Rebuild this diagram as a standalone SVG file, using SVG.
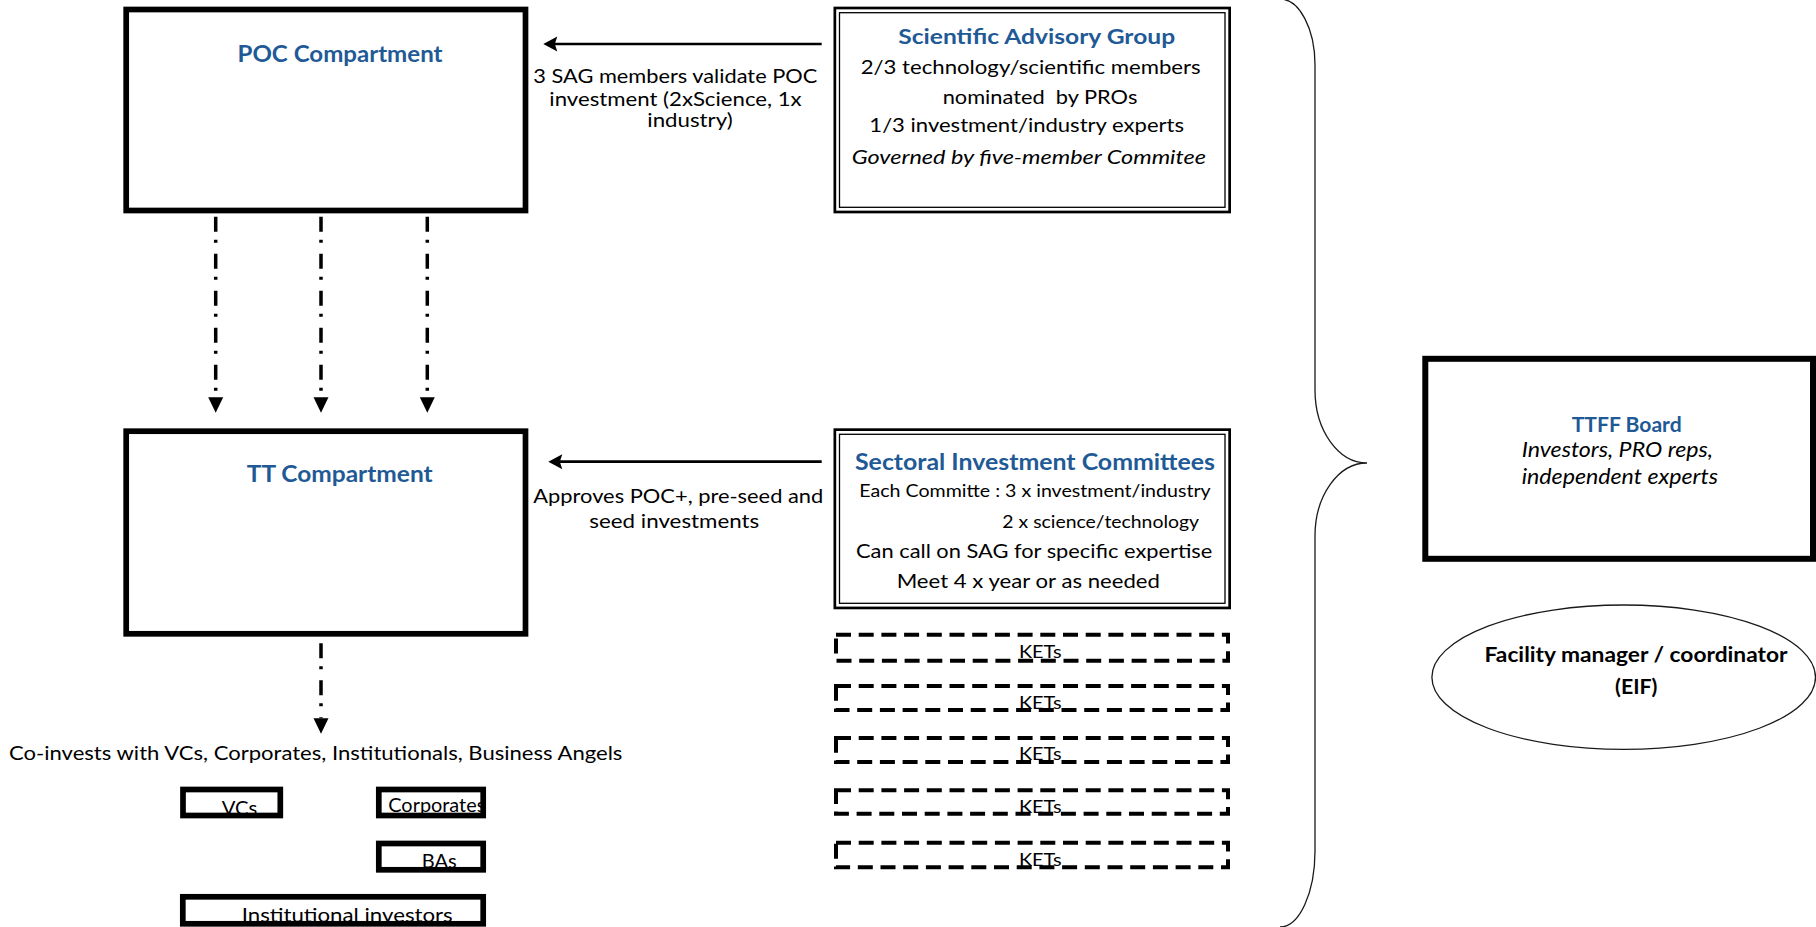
<svg xmlns="http://www.w3.org/2000/svg" width="1816" height="927" viewBox="0 0 1816 927">
<style>
  text{font-family:Lato,"Liberation Sans",Arial,sans-serif;fill:#000}
  .t{font-weight:bold;fill:#1F5A96}
  .m{text-anchor:middle}
  .i{font-style:italic}
  .bd{font-weight:bold}
  .box{fill:none;stroke:#000;stroke-width:5.7}
  .dO{fill:none;stroke:#000;stroke-width:2.7}
  .dI{fill:none;stroke:#000;stroke-width:1.3}
  .ket{fill:none;stroke:#000;stroke-width:4;stroke-dasharray:15 7.7}
  .dd{fill:none;stroke:#000;stroke-width:3.5;stroke-dasharray:15 8 3 11}
  .ar{fill:none;stroke:#000;stroke-width:2.7}
  .thin{fill:none;stroke:#1a1a1a;stroke-width:1.3}
</style>
<defs>
  <marker id="ah" markerUnits="userSpaceOnUse" viewBox="-1 -9 18 18" markerWidth="18" markerHeight="18" refX="4.3" refY="0" orient="auto">
    <path d="M0,-7.5 L14,0 L0,7.5 L2.5,0 Z" fill="#000"/>
  </marker>
  <marker id="dh" markerUnits="userSpaceOnUse" viewBox="-1 -9 18 18" markerWidth="18" markerHeight="18" refX="0" refY="0" orient="auto">
    <path d="M0,-7.5 L15.4,0 L0,7.5 Z" fill="#000"/>
  </marker>
</defs>
<rect x="0" y="0" width="1816" height="927" fill="#fff"/>

<g id="connectors">
  <path class="ar" d="M821.7,44 L553,44" marker-end="url(#ah)"/>
  <path class="ar" d="M821.7,461.7 L558,461.7" marker-end="url(#ah)"/>
  <path class="dd" d="M215.7,216.7 L215.7,397.3" marker-end="url(#dh)"/>
  <path class="dd" d="M321,216.7 L321,397.3" marker-end="url(#dh)"/>
  <path class="dd" d="M427.3,216.7 L427.3,397.3" marker-end="url(#dh)"/>
  <path class="dd" d="M321,643.3 L321,718.3" marker-end="url(#dh)"/>
  <path class="thin" d="M1280,-1 A35,66 0 0 1 1315,65 L1315,390 A52,73 0 0 0 1367,463 A52,73 0 0 0 1315,536 L1315,851 A35,76 0 0 1 1280,927"/>
</g>

<g id="label-sag">
  <text class="m" x="675.3" y="83.3" font-size="19" textLength="284" lengthAdjust="spacingAndGlyphs">3 SAG members validate POC</text>
  <text class="m" x="675.5" y="106" font-size="19" textLength="252.3" lengthAdjust="spacingAndGlyphs">investment (2xScience, 1x</text>
  <text class="m" x="690" y="126.5" font-size="19" textLength="85.3" lengthAdjust="spacingAndGlyphs">industry)</text>
</g>
<g id="label-sic">
  <text class="m" x="678.3" y="503.3" font-size="19" textLength="290" lengthAdjust="spacingAndGlyphs">Approves POC+, pre-seed and</text>
  <text class="m" x="674.3" y="528.3" font-size="19" textLength="170" lengthAdjust="spacingAndGlyphs">seed investments</text>
</g>

<g id="poc">
  <rect class="box" x="126.2" y="9.5" width="399.3" height="201"/>
  <text class="t m" x="340" y="61.5" font-size="23" textLength="205" lengthAdjust="spacingAndGlyphs">POC Compartment</text>
</g>

<g id="tt">
  <rect class="box" x="126.2" y="431.2" width="399.3" height="202.6"/>
  <text class="t m" x="339.7" y="481.7" font-size="23" textLength="186" lengthAdjust="spacingAndGlyphs">TT Compartment</text>
</g>

<g id="sag">
  <rect class="dO" x="834.85" y="8" width="394.8" height="204"/>
  <rect class="dI" x="839.5" y="12.7" width="385.5" height="194.6"/>
  <text class="t m" x="1036.7" y="44.3" font-size="21.5" textLength="277" lengthAdjust="spacingAndGlyphs">Scientific Advisory Group</text>
  <text class="m" x="1030.7" y="74" font-size="19" textLength="340" lengthAdjust="spacingAndGlyphs">2/3 technology/scientific members</text>
  <text class="m" x="1040" y="103.5" font-size="19" textLength="194.7" lengthAdjust="spacingAndGlyphs" style="white-space:pre">nominated  by PROs</text>
  <text class="m" x="1026.7" y="132.3" font-size="19" textLength="314.7" lengthAdjust="spacingAndGlyphs">1/3 investment/industry experts</text>
  <text class="m i" x="1028.8" y="164" font-size="19" textLength="354.3" lengthAdjust="spacingAndGlyphs">Governed by five-member Commitee</text>
</g>

<g id="sic">
  <rect class="dO" x="834.85" y="429.65" width="394.8" height="178.3"/>
  <rect class="dI" x="839.5" y="434.3" width="385.5" height="169"/>
  <text class="t m" x="1035" y="470" font-size="22" textLength="360" lengthAdjust="spacingAndGlyphs">Sectoral Investment Committees</text>
  <text class="m" x="1035" y="496.7" font-size="17" textLength="351.3" lengthAdjust="spacingAndGlyphs">Each Committe : 3 x investment/industry</text>
  <text class="m" x="1100.7" y="528.3" font-size="17" textLength="196.7" lengthAdjust="spacingAndGlyphs">2 x science/technology</text>
  <text class="m" x="1034.2" y="558.3" font-size="19" textLength="356.3" lengthAdjust="spacingAndGlyphs">Can call on SAG for specific expertise</text>
  <text class="m" x="1028.3" y="587.7" font-size="19" textLength="263.3" lengthAdjust="spacingAndGlyphs">Meet 4 x year or as needed</text>
</g>

<g id="kets1">
  <rect class="ket" x="836" y="634.7" width="392" height="26"/>
  <text class="m" x="1040.3" y="657.7" font-size="18" fill="#1a1a1a" textLength="42.7" lengthAdjust="spacingAndGlyphs">KETs</text>
</g>
<g id="kets2">
  <rect class="ket" x="836" y="686" width="392" height="24"/>
  <text class="m" x="1040.3" y="709.3" font-size="18" textLength="42.7" lengthAdjust="spacingAndGlyphs">KETs</text>
</g>
<g id="kets3">
  <rect class="ket" x="836" y="738" width="392" height="24"/>
  <text class="m" x="1040.3" y="760" font-size="18" textLength="42.7" lengthAdjust="spacingAndGlyphs">KETs</text>
</g>
<g id="kets4">
  <rect class="ket" x="836" y="790.3" width="392" height="23.4"/>
  <text class="m" x="1040.3" y="812.7" font-size="18" textLength="42.7" lengthAdjust="spacingAndGlyphs">KETs</text>
</g>
<g id="kets5">
  <rect class="ket" x="836" y="842.7" width="392" height="24.6"/>
  <text class="m" x="1040.3" y="866" font-size="18" textLength="42.7" lengthAdjust="spacingAndGlyphs">KETs</text>
</g>

<g id="coinvest">
  <text class="m" x="315.7" y="760" font-size="19.5" textLength="613.4" lengthAdjust="spacingAndGlyphs">Co-invests with VCs, Corporates, Institutionals, Business Angels</text>
</g>

<g id="vcs">
  <text x="221.7" y="815.4" font-size="19" textLength="35.6" lengthAdjust="spacingAndGlyphs">VCs</text>
  <rect class="box" x="183" y="789.5" width="97.3" height="26"/>
</g>
<g id="corporates">
  <text x="388.3" y="812" font-size="19" textLength="97" lengthAdjust="spacingAndGlyphs">Corporates</text>
  <rect class="box" x="378.8" y="789.5" width="104.4" height="26"/>
</g>
<g id="bas">
  <text x="421.7" y="867.7" font-size="19" textLength="35" lengthAdjust="spacingAndGlyphs">BAs</text>
  <rect class="box" x="378.8" y="843.5" width="104.4" height="26.3"/>
</g>
<g id="institutional">
  <text x="241.7" y="922" font-size="19" textLength="211" lengthAdjust="spacingAndGlyphs">Institutional investors</text>
  <rect class="box" x="182.8" y="896.8" width="300.4" height="27"/>
</g>

<g id="ttff">
  <rect class="box" x="1425.3" y="358.8" width="387.7" height="200" style="stroke-width:6"/>
  <text class="t m" x="1626.7" y="431.7" font-size="21" textLength="110" lengthAdjust="spacingAndGlyphs">TTFF Board</text>
  <text class="i" x="1521.7" y="456.7" font-size="20.5" textLength="191.3" lengthAdjust="spacingAndGlyphs">Investors, PRO reps,</text>
  <text class="i" x="1521.7" y="484" font-size="20.5" textLength="196.3" lengthAdjust="spacingAndGlyphs">independent experts</text>
</g>

<g id="facility">
  <ellipse class="thin" cx="1623.7" cy="677.2" rx="191.8" ry="72.2"/>
  <text class="m bd" x="1636" y="661.7" font-size="21" textLength="303" lengthAdjust="spacingAndGlyphs">Facility manager / coordinator</text>
  <text class="m bd" x="1636.2" y="694" font-size="21" textLength="42.3" lengthAdjust="spacingAndGlyphs">(EIF)</text>
</g>
</svg>
